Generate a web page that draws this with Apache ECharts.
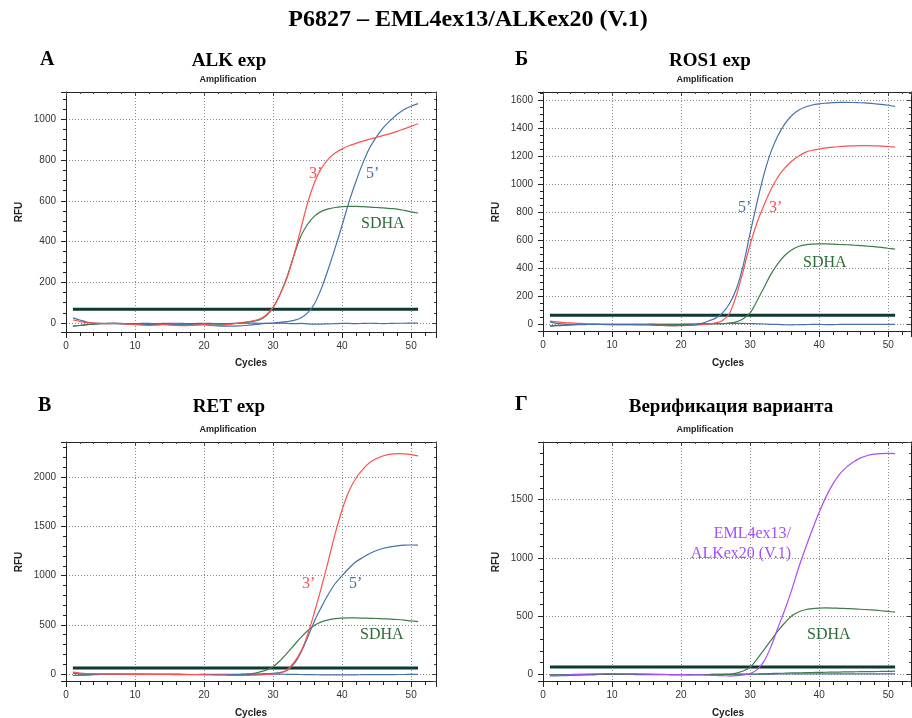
<!DOCTYPE html>
<html>
<head>
<meta charset="utf-8">
<script src="https://cdn.jsdelivr.net/npm/echarts@6.0.0/dist/echarts.min.js"></script>
<style>
  html, body { margin: 0; padding: 0; background: #fff; }
  #chart { width: 912px; height: 718px; }
</style>
</head>
<body>
<div id="chart"></div>
<script>
// cycles 1..51
const cycles = [1, 2, 3, 4, 5, 6, 7, 8, 9, 10, 11, 12, 13, 14, 15, 16, 17, 18, 19, 20,
    21, 22, 23, 24, 25, 26, 27, 28, 29, 30, 31, 32, 33, 34, 35, 36, 37, 38, 39, 40,
    41, 42, 43, 44, 45, 46, 47, 48, 49, 50, 51]

// A - ALK exp
const alk3 = [15, 8, 2, 0, -2, -3, -2, -3, -5, -8,
    -10, -12, -10, -8, -10, -12, -13, -12, -10, -8,
    -10, -12, -10, -5, 0, 5, 10, 20, 40, 78,
    140, 220, 330, 460, 590, 690, 760, 805, 835, 855,
    870, 882, 893, 903, 912, 921, 930, 942, 953, 965, 978]
const alk5 = [25, 15, 5, 0, -2, -3, -3, -4, -5, -6,
    -7, -8, -8, -7, -7, -8, -9, -9, -8, -8,
    -12, -14, -15, -15, -14, -12, -9, -5, -2, 0,
    3, 7, 13, 25, 50, 95, 170, 265, 370, 480,
    595, 695, 785, 860, 915, 960, 995, 1025, 1048, 1064, 1077]
const alkSdha = [-15, -12, -8, -5, -3, -2, -2, -3, -4, -5,
    -5, -6, -6, -5, -5, -6, -6, -5, -5, -5,
    -6, -6, -5, -3, 0, 3, 8, 15, 35, 75,
    140, 225, 330, 425, 485, 525, 548, 560, 567, 571,
    573, 573, 571, 569, 567, 565, 562, 559, 553, 546, 540]
const alkNtc = [-15, -12, -8, -5, -3, -2, -1, -2, -3, -3,
    -2, -2, -3, -2, -1, -1, -2, -3, -2, -1,
    -2, -3, -3, -2, -1, 0, 0, -1, -2, -1,
    0, -2, -3, -2, -4, -5, -5, -4, -3, -2,
    -2, -3, -2, -1, -2, -3, -2, -1, -1, 0, 0]
const alkThreshold = 68

// Б - ROS1 exp
const ros5 = [15, 5, 0, -3, -4, -4, -3, -3, -4, -4,
    -4, -4, -4, -4, -5, -8, -10, -12, -12, -10,
    -8, -5, 5, 22, 42, 80, 145, 250, 420, 650,
    870, 1070, 1230, 1345, 1430, 1490, 1530, 1553, 1567, 1575,
    1580, 1584, 1586, 1586, 1585, 1583, 1580, 1576, 1571, 1565, 1557]
const ros3 = [20, 15, 10, 8, 5, 3, 0, -2, -3, -4,
    -4, -5, -5, -6, -6, -8, -9, -10, -12, -12,
    -10, -8, -5, 0, 8, 26, 74, 205, 380, 570,
    725, 850, 960, 1050, 1115, 1165, 1200, 1228, 1243, 1252,
    1260, 1265, 1270, 1273, 1275, 1276, 1276, 1275, 1273, 1270, 1265]
const rosSdha = [-15, -12, -10, -6, -3, -2, -2, -2, -3, -3,
    -3, -3, -3, -2, -2, -2, -3, -3, -3, -2,
    -2, -2, 0, 1, 2, 3, 6, 15, 38, 80,
    165, 260, 355, 430, 490, 530, 555, 566, 571, 573,
    573, 571, 569, 567, 564, 561, 557, 553, 548, 542, 536]
const rosNtc = [-12, -10, -8, -5, -3, -2, -2, -3, -3, -2,
    -2, -3, -3, -2, -2, -1, -2, -3, -3, -2,
    -1, 0, 1, 2, 2, 3, 4, 5, 4, 3,
    2, 0, -2, -3, -5, -6, -5, -4, -3, -3,
    -4, -4, -3, -2, -2, -3, -3, -2, -2, -2, -3]
const rosThreshold = 62

// В - RET exp
const ret3 = [20, 10, 5, 3, 0, -1, -2, -2, -3, -3,
    -4, -4, -5, -5, -5, -6, -6, -7, -7, -8,
    -10, -11, -12, -14, -15, -15, -12, -10, -5, 0,
    10, 41, 115, 225, 400, 630, 880, 1150, 1430, 1670,
    1860, 1990, 2080, 2150, 2190, 2218, 2234, 2240, 2238, 2230, 2217]
const ret5 = [-15, -12, -10, -5, -2, 0, 0, -1, -1, -2,
    -2, -3, -3, -3, -4, -4, -5, -5, -5, -5,
    -5, -5, -5, -5, -5, -5, -3, 0, 3, 8,
    15, 35, 100, 215, 370, 540, 680, 810, 920, 1000,
    1075, 1140, 1185, 1225, 1255, 1278, 1293, 1303, 1309, 1311, 1310]
const retSdha = [10, 5, 0, -2, -3, -3, -3, -3, -3, -3,
    -3, -4, -4, -4, -4, -4, -4, -5, -5, -5,
    -5, -5, -5, -5, -5, 0, 5, 20, 40, 75,
    135, 210, 290, 370, 440, 495, 530, 550, 562, 568,
    570, 570, 568, 566, 564, 561, 558, 554, 548, 540, 533]
const retNtc = [-15, -12, -10, -7, -5, -4, -3, -3, -3, -3,
    -3, -3, -3, -3, -4, -4, -5, -5, -5, -4,
    -4, -4, -4, -3, -3, -3, -3, -3, -2, -2,
    -2, -3, -4, -5, -6, -7, -8, -8, -8, -8,
    -8, -8, -7, -7, -7, -6, -6, -5, -5, -4, -4]
const retThreshold = 62

// Г - verification
const fusion = [-10, -10, -8, -5, -3, 0, 2, 3, 5, 5,
    5, 4, 3, 2, 0, -1, -2, -2, -3, -3,
    -5, -5, -6, -8, -10, -12, -14, -12, -5, 5,
    40, 110, 235, 395, 550, 720, 910, 1080, 1240, 1390,
    1525, 1635, 1720, 1780, 1825, 1858, 1878, 1890, 1895, 1896, 1895]
const verSdha = [-5, -5, -3, -2, -1, 0, 0, 0, 0, 0,
    0, 0, -1, -1, -1, -2, -2, -2, -3, -3,
    -3, -3, -3, -3, -3, -2, 0, 10, 28, 60,
    130, 210, 290, 370, 440, 500, 535, 554, 563, 568,
    569, 568, 566, 564, 561, 558, 554, 550, 545, 539, 533]
const verSdhaLow = [-8, -7, -6, -5, -4, -3, -3, -2, -2, -2,
    -2, -2, -2, -3, -3, -3, -3, -3, -3, -3,
    -3, -2, -2, -2, -1, -1, 0, 0, 1, 1,
    2, 4, 6, 8, 9, 11, 12, 14, 15, 16,
    17, 18, 19, 20, 21, 22, 22, 23, 24, 25, 26]
const verNtc = [-15, -14, -12, -10, -8, -6, -4, -2, 0, 2,
    2, 2, 1, 0, 0, -1, -1, -2, -2, -2,
    -2, -2, -2, -2, -1, -1, 0, 0, 0, 0,
    0, 1, 1, 2, 2, 2, 3, 3, 3, 3,
    3, 4, 3, 3, 4, 4, 3, 3, 4, 4, 4]
const verThreshold = 63

const RED = '#ff4f4f'
const BLUE = '#4672aa'
const GREEN = '#3f7b4b'
const PURPLE = '#a64dfc'
const THR = '#0e3a33'
const SERIF = '"Liberation Serif", "Times New Roman", serif'
const SANS = '"Liberation Sans", Arial, sans-serif'

const panels = [
    { grid: { left: 66, top: 92, width: 370, height: 240 }, xMax: 53.6, yMin: -44, yMax: 1134, yStep: 200, yMinor: 4,
      threshold: alkThreshold,
      curves: [[alkNtc, BLUE], [alkSdha, GREEN], [alk5, BLUE], [alk3, RED]] },
    { grid: { left: 543, top: 92, width: 368, height: 239 }, xMax: 53.3, yMin: -50, yMax: 1660, yStep: 200, yMinor: 4,
      threshold: rosThreshold,
      curves: [[rosNtc, BLUE], [rosSdha, GREEN], [ros3, RED], [ros5, BLUE]] },
    { grid: { left: 66, top: 442, width: 370, height: 239 }, xMax: 53.6, yMin: -71, yMax: 2358, yStep: 500, yMinor: 5,
      threshold: retThreshold,
      curves: [[retNtc, BLUE], [retSdha, GREEN], [ret5, BLUE], [ret3, RED]] },
    { grid: { left: 543, top: 442, width: 368, height: 239 }, xMax: 53.3, yMin: -58, yMax: 1994, yStep: 500, yMinor: 5,
      threshold: verThreshold,
      curves: [[verNtc, BLUE], [verSdhaLow, GREEN], [verSdha, GREEN], [fusion, PURPLE]] }
]

const pairs = (ys) => cycles.map((c, i) => [c, ys[i]])
const plain = (v) => String(v)

const buildOption = () => {
    const grid = [], xAxis = [], yAxis = [], series = []

    panels.forEach((p, i) => {
        grid.push(Object.assign({ show: false }, p.grid))
        const xBase = {
            gridIndex: i, type: 'value', min: 0, max: p.xMax,
            minInterval: 10, maxInterval: 10,
            axisLine: { show: true, onZero: false, lineStyle: { color: '#222', width: 1 } }
        }
        const yBase = {
            gridIndex: i, type: 'value', min: p.yMin, max: p.yMax,
            minInterval: p.yStep, maxInterval: p.yStep,
            axisLine: { show: true, onZero: false, lineStyle: { color: '#222', width: 1 } }
        }
        // bottom / left: labels, dotted grid
        xAxis.push(Object.assign({}, xBase, {
            position: 'bottom',
            axisTick: { show: true, length: 6, lineStyle: { color: '#222' } },
            minorTick: { show: true, splitNumber: 5, length: 4, lineStyle: { color: '#222' } },
            axisLabel: { color: '#333', fontSize: 10, fontFamily: SANS, margin: 9, showMaxLabel: false, formatter: plain },
            splitLine: { show: true, lineStyle: { color: '#8a8a8a', type: [1, 2], width: 1 } }
        }))
        yAxis.push(Object.assign({}, yBase, {
            position: 'left',
            axisTick: { show: true, length: 5, lineStyle: { color: '#222' } },
            minorTick: { show: true, splitNumber: p.yMinor, length: 3, lineStyle: { color: '#222' } },
            axisLabel: { color: '#333', fontSize: 10, fontFamily: SANS, margin: 10, showMinLabel: false, showMaxLabel: false, formatter: plain },
            splitLine: { show: true, lineStyle: { color: '#8a8a8a', type: [1, 2], width: 1 } }
        }))
        // top / right: frame with inner ticks
        xAxis.push(Object.assign({}, xBase, {
            position: 'top',
            axisTick: { show: true, inside: true, length: 4, lineStyle: { color: '#444' } },
            minorTick: { show: true, splitNumber: 5, length: 2, lineStyle: { color: '#444' } },
            axisLabel: { show: false }, splitLine: { show: false }
        }))
        yAxis.push(Object.assign({}, yBase, {
            position: 'right',
            axisTick: { show: true, inside: true, length: 4, lineStyle: { color: '#444' } },
            minorTick: { show: true, splitNumber: p.yMinor, length: 2, lineStyle: { color: '#444' } },
            axisLabel: { show: false }, splitLine: { show: false }
        }))

        series.push({
            type: 'line', xAxisIndex: i * 2, yAxisIndex: i * 2,
            data: [[1, p.threshold], [51, p.threshold]],
            showSymbol: false, silent: true,
            lineStyle: { color: THR, width: 3 }, z: 2
        })
        p.curves.forEach(([ys, color]) => {
            series.push({
                type: 'line', xAxisIndex: i * 2, yAxisIndex: i * 2,
                data: pairs(ys), smooth: 0.3, showSymbol: false, silent: true,
                lineStyle: { color: color, width: 1.2 }, z: 3
            })
        })
    })

    const txt = (text, x, y, font, fill, align, rotation) => ({
        type: 'text', x: x, y: y, rotation: rotation || 0,
        style: { text: text, font: font, fill: fill || '#000', textAlign: align || 'center', textVerticalAlign: 'middle' }
    })

    const graphic = [
        txt('P6827 – EML4ex13/ALKex20 (V.1)', 468, 20, 'bold 24px ' + SERIF),
        txt('А', 40, 60, 'bold 20px ' + SERIF, '#000', 'left'),
        txt('Б', 515, 60, 'bold 20px ' + SERIF, '#000', 'left'),
        txt('В', 38, 406, 'bold 20px ' + SERIF, '#000', 'left'),
        txt('Г', 515, 405, 'bold 20px ' + SERIF, '#000', 'left'),
        txt('ALK exp', 229, 61, 'bold 19px ' + SERIF),
        txt('ROS1 exp', 710, 61, 'bold 19px ' + SERIF),
        txt('RET exp', 229, 407, 'bold 19px ' + SERIF),
        txt('Верификация варианта', 731, 407, 'bold 19px ' + SERIF)
    ]
    const amp = [[228, 80], [705, 80], [228, 430], [705, 430]]
    const rfu = [[19, 212], [496, 212], [19, 562], [496, 562]]
    const cyc = [[251, 363], [728, 363], [251, 713], [728, 713]]
    amp.forEach(([x, y]) => graphic.push(txt('Amplification', x, y, 'bold 9px ' + SANS, '#222')))
    rfu.forEach(([x, y]) => graphic.push(txt('RFU', x, y, 'bold 10px ' + SANS, '#222', 'center', Math.PI / 2)))
    cyc.forEach(([x, y]) => graphic.push(txt('Cycles', x, y, 'bold 10px ' + SANS, '#222')))

    const note = '16px ' + SERIF
    graphic.push(
        txt('3’', 309, 174, note, RED, 'left'),
        txt('5’', 366, 174, note, BLUE, 'left'),
        txt('SDHA', 361, 224, note, '#2f6b3a', 'left'),
        txt('5’', 738, 208, note, BLUE, 'left'),
        txt('3’', 769, 208, note, RED, 'left'),
        txt('SDHA', 803, 263, note, '#2f6b3a', 'left'),
        txt('3’', 302, 584, note, RED, 'left'),
        txt('5’', 349, 584, note, BLUE, 'left'),
        txt('SDHA', 360, 635, note, '#2f6b3a', 'left'),
        txt('EML4ex13/', 791, 534, note, PURPLE, 'right'),
        txt('ALKex20 (V.1)', 791, 554, note, PURPLE, 'right'),
        txt('SDHA', 807, 635, note, '#2f6b3a', 'left')
    )

    return { animation: false, backgroundColor: '#fff', grid, xAxis, yAxis, series, graphic }
}

var chartDom = document.getElementById('chart')
var myChart = echarts.init(chartDom, null, { renderer: 'canvas' })
myChart.setOption(buildOption())
</script>
</body>
</html>
